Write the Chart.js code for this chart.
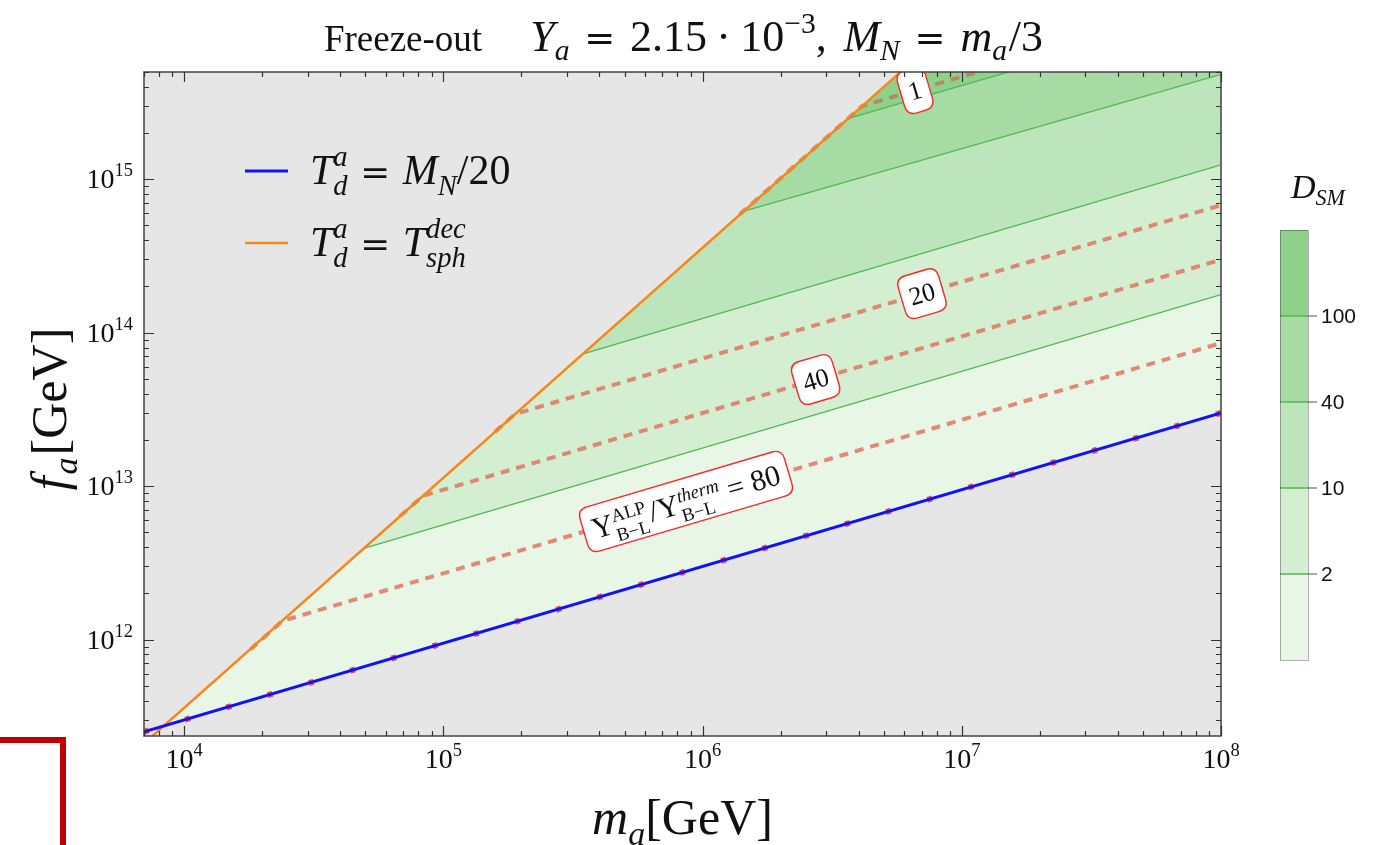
<!DOCTYPE html>
<html><head><meta charset="utf-8">
<script src="https://cdn.jsdelivr.net/npm/chart.js@4.4.1/dist/chart.umd.min.js"></script>
<style>html,body{margin:0;padding:0;background:#fff;}#wrap{width:1377px;height:845px;position:relative;}</style>
</head><body><div id="wrap"><canvas id="c" width="1377" height="845"></canvas></div>
<script>
// ---------- axis ranges & ticks ----------
const xRange = [7000, 1e8];
const yRange = [2.35e11, 5.0e15];
const xTickValues = [1e4, 1e5, 1e6, 1e7, 1e8];
const xTickExps = ['4', '5', '6', '7', '8'];
const yTickValues = [1e12, 1e13, 1e14, 1e15];
const yTickExps = ['12', '13', '14', '15'];

// ---------- boundary curves ----------
const blueM = [7000, 1e8];          // T_d^a = M_N/20
const blueF = [2.50e11, 3.00e13];
const orangeM = [7000, 1.0e7];      // T_d^a = T_sph^dec
const orangeF = [2.10e11, 1.13e16];

// ---------- D_SM contour lines (lower edges of bands) ----------
const dsmLevels = ['2', '10', '40', '100'];
const dsm2M = [4.93e4, 1e8];    const dsm2F = [3.92e12, 1.77e14];
const dsm10M = [3.46e5, 1e8];   const dsm10F = [7.28e13, 1.24e15];
const dsm40M = [1.435e6, 1e8];  const dsm40F = [6.17e14, 4.83e15];
const dsm100M = [3.65e6, 1e8];  const dsm100F = [2.49e15, 1.26e16];

// ---------- Y_ALP/Y_therm contour lines ----------
const r80M = [1.80e4, 2.39e4, 1e8];   const r80F = [8.6e11, 1.32e12, 8.55e13];
const r40M = [6.80e4, 8.36e4, 1e8];   const r40F = [6.35e12, 8.65e12, 2.99e14];
const r20M = [1.58e5, 1.89e5, 1e8];   const r20F = [2.25e13, 2.95e13, 6.78e14];
const r1M = [1.39e6, 4.12e6, 1.585e7]; const r1F = [5.89e14, 3.00e15, 5.87e15];

// ---------- contour label anchors ----------
const ratioLabelText = ['1', '20', '40', '80'];
const ratioLabelM = [6.6e6, 7.02e6, 2.73e6, 8.63e5];
const ratioLabelF = [3.79e15, 1.795e14, 4.95e13, 7.94e12];

// ---------- colours ----------
const bandColors = ['rgb(232,246,230)', 'rgb(211,238,209)', 'rgb(189,229,187)', 'rgb(166,219,164)', 'rgb(141,209,139)'];
const GRAY = 'rgb(230,230,230)';
const GREEN_LINE = 'rgb(80,185,80)';
const DASH = 'rgba(226,100,80,0.75)';
const BLUE = 'rgb(18,18,245)';
const ORANGE = 'rgb(247,135,25)';
const TRANSP = 'rgba(0,0,0,0)';

const SERIF = '"Liberation Serif","Times New Roman",serif';
const DSERIF = '"DejaVu Serif",serif';
const SANS = '"Liberation Sans",Arial,sans-serif';

function series(m, f, opts) {
  return Object.assign({
    data: m.map((v, i) => ({x: v, y: f[i]})),
    pointRadius: 0, tension: 0, fill: false,
    borderColor: TRANSP, borderWidth: 1, backgroundColor: TRANSP
  }, opts);
}

// ---------- rich text helpers ----------
function segFont(p, base) { return (p.it ? 'italic ' : '') + ((p.s || 1) * base).toFixed(1) + 'px ' + (p.fam || SERIF); }
function segWidth(ctx, seg, base) {
  const parts = seg.stack || [seg];
  let w = 0;
  parts.forEach(p => { ctx.font = segFont(p, base); w = Math.max(w, ctx.measureText(p.t).width); });
  return w + (seg.dx || 0) * base;
}
function richWidth(ctx, segs, base) { return segs.reduce((a, s) => a + segWidth(ctx, s, base), 0); }
function drawRich(ctx, x, y, segs, base, align, color) {
  const ws = segs.map(s => segWidth(ctx, s, base));
  const total = ws.reduce((a, b) => a + b, 0);
  let cx = align === 'center' ? x - total / 2 : (align === 'right' ? x - total : x);
  ctx.fillStyle = color || '#111';
  ctx.textAlign = 'left'; ctx.textBaseline = 'alphabetic';
  segs.forEach((s, i) => {
    (s.stack || [s]).forEach(p => {
      ctx.font = segFont(p, base);
      ctx.fillText(p.t, cx + (p.ox || 0) * base, y + (p.dy || 0) * base);
    });
    cx += ws[i];
  });
  return total;
}
function roundRect(ctx, x, y, w, h, r) {
  ctx.beginPath();
  ctx.moveTo(x + r, y); ctx.lineTo(x + w - r, y); ctx.quadraticCurveTo(x + w, y, x + w, y + r);
  ctx.lineTo(x + w, y + h - r); ctx.quadraticCurveTo(x + w, y + h, x + w - r, y + h);
  ctx.lineTo(x + r, y + h); ctx.quadraticCurveTo(x, y + h, x, y + h - r);
  ctx.lineTo(x, y + r); ctx.quadraticCurveTo(x, y, x + r, y); ctx.closePath();
}

const bgPlugin = {
  id: 'bg',
  beforeDraw(chart) {
    const {ctx, chartArea: a} = chart;
    ctx.save(); ctx.fillStyle = GRAY; ctx.fillRect(a.left, a.top, a.right - a.left, a.bottom - a.top); ctx.restore();
  }
};

const decoPlugin = {
  id: 'deco',
  afterDraw(chart) {
    const {ctx, chartArea: a} = chart;
    const xs = chart.scales.x, ys = chart.scales.y;
    ctx.save();

    // contour labels (clipped to plot area)
    ctx.save();
    ctx.beginPath(); ctx.rect(a.left, a.top, a.right - a.left, a.bottom - a.top); ctx.clip();
    const lineSets = [[r1M, r1F], [r20M, r20F], [r40M, r40F], [r80M, r80F]];
    ratioLabelText.forEach((txt, i) => {
      const [m, f] = lineSets[i];
      const n = m.length;
      const x1 = xs.getPixelForValue(m[n - 2]), y1 = ys.getPixelForValue(f[n - 2]);
      const x2 = xs.getPixelForValue(m[n - 1]), y2 = ys.getPixelForValue(f[n - 1]);
      const ang = Math.atan2(y2 - y1, x2 - x1);
      const cx = xs.getPixelForValue(ratioLabelM[i]), cy = ys.getPixelForValue(ratioLabelF[i]);
      let segs, base, bh, padX;
      if (txt === '80') {
        base = 30; bh = 46; padX = 9;
        segs = [
          {t: 'Y'},
          {stack: [{t: 'ALP', s: 0.62, dy: -0.36}, {t: 'B\u2212L', s: 0.62, dy: 0.3}], dx: 0.08},
          {t: '/', dx: 0.02},
          {t: 'Y'},
          {stack: [{t: 'therm', it: true, s: 0.62, dy: -0.36}, {t: 'B\u2212L', s: 0.62, dy: 0.3}]},
          {t: ' = 80'}
        ];
      } else {
        base = 26; bh = 44; padX = 8;
        segs = [{t: txt}];
      }
      const w = richWidth(ctx, segs, base);
      const bw = w + 2 * padX;
      ctx.save();
      ctx.translate(cx, cy); ctx.rotate(ang);
      roundRect(ctx, -bw / 2, -bh / 2, bw, bh, 10);
      ctx.fillStyle = '#fff'; ctx.fill();
      ctx.strokeStyle = 'rgb(250,40,40)'; ctx.lineWidth = 1.4; ctx.stroke();
      drawRich(ctx, 0, base * 0.34, segs, base, 'center', '#111');
      ctx.restore();
    });
    ctx.restore();

    // frame
    ctx.strokeStyle = '#444'; ctx.lineWidth = 1.5;
    ctx.strokeRect(a.left, a.top, a.right - a.left, a.bottom - a.top);

    // ticks (inward, all four sides)
    ctx.lineWidth = 1.2; ctx.strokeStyle = '#333';
    ctx.beginPath();
    for (let e = 3; e <= 8; e++) for (let k = 1; k < 10; k++) {
      const v = k * Math.pow(10, e);
      if (v < xRange[0] || v > xRange[1]) continue;
      const px = Math.round(xs.getPixelForValue(v)) + 0.5;
      const len = k === 1 ? 10 : 5;
      ctx.moveTo(px, a.bottom); ctx.lineTo(px, a.bottom - len);
      ctx.moveTo(px, a.top); ctx.lineTo(px, a.top + len);
    }
    for (let e = 11; e <= 15; e++) for (let k = 1; k < 10; k++) {
      const v = k * Math.pow(10, e);
      if (v < yRange[0] || v > yRange[1]) continue;
      const py = Math.round(ys.getPixelForValue(v)) + 0.5;
      const len = k === 1 ? 10 : 5;
      ctx.moveTo(a.left, py); ctx.lineTo(a.left + len, py);
      ctx.moveTo(a.right, py); ctx.lineTo(a.right - len, py);
    }
    ctx.stroke();

    // tick labels
    xTickValues.forEach((v, i) => {
      const px = xs.getPixelForValue(v);
      drawRich(ctx, px, 768, [{t: '10'}, {t: xTickExps[i], s: 0.66, dy: -0.42}], 28, 'center', '#111');
    });
    yTickValues.forEach((v, i) => {
      const py = ys.getPixelForValue(v);
      drawRich(ctx, 133, py + 9, [{t: '10'}, {t: yTickExps[i], s: 0.66, dy: -0.42}], 28, 'right', '#111');
    });

    // axis titles
    drawRich(ctx, (a.left + a.right) / 2, 834,
      [{t: 'm', it: true}, {t: 'a', it: true, s: 0.68, dy: 0.22}, {t: '[GeV]'}], 50, 'center', '#111');
    ctx.save();
    ctx.translate(66, (a.top + a.bottom) / 2 + 5); ctx.rotate(-Math.PI / 2);
    drawRich(ctx, 0, 0, [{t: 'f', it: true, dx: 0.04}, {t: 'a', it: true, s: 0.68, dy: 0.22, dx: 0.04}, {t: '[GeV]'}], 50, 'center', '#111');
    ctx.restore();

    // title
    drawRich(ctx, 683.5, 51, [
      {t: 'Freeze-out', dx: 1.3},
      {t: 'Y', it: true, s: 1.19}, {t: 'a', it: true, s: 0.8, dy: 0.25, dx: 0.4},
      {t: '=', s: 1.0, fam: DSERIF, dx: 0.4},
      {t: '2.15', s: 1.19, dx: 0.25}, {t: '\u00b7', s: 1.19, dx: 0.25},
      {t: '10', s: 1.19}, {t: '\u22123', s: 0.8, dy: -0.5}, {t: ',', s: 1.19, dx: 0.45},
      {t: 'M', it: true, s: 1.19}, {t: 'N', it: true, s: 0.8, dy: 0.25, dx: 0.4},
      {t: '=', s: 1.0, fam: DSERIF, dx: 0.4},
      {t: 'm', it: true, s: 1.19}, {t: 'a', it: true, s: 0.8, dy: 0.25, dx: 0.05}, {t: '/3', s: 1.19}
    ], 37, 'center', '#111');

    // legend
    ctx.lineWidth = 3; ctx.strokeStyle = BLUE;
    ctx.beginPath(); ctx.moveTo(245, 171); ctx.lineTo(288, 171); ctx.stroke();
    ctx.lineWidth = 2.5; ctx.strokeStyle = ORANGE;
    ctx.beginPath(); ctx.moveTo(245, 243); ctx.lineTo(288, 243); ctx.stroke();
    drawRich(ctx, 310, 184, [
      {t: 'T', it: true},
      {stack: [{t: 'a', it: true, s: 0.68, dy: -0.42}, {t: 'd', it: true, s: 0.68, dy: 0.26}], dx: 0.3},
      {t: '=', s: 0.85, fam: DSERIF, dx: 0.3}, {t: 'M', it: true}, {t: 'N', it: true, s: 0.68, dy: 0.26}, {t: '/20'}
    ], 42, 'left', '#111');
    drawRich(ctx, 310, 256, [
      {t: 'T', it: true},
      {stack: [{t: 'a', it: true, s: 0.68, dy: -0.42}, {t: 'd', it: true, s: 0.68, dy: 0.26}], dx: 0.3},
      {t: '=', s: 0.85, fam: DSERIF, dx: 0.3}, {t: 'T', it: true},
      {stack: [{t: 'dec', it: true, s: 0.68, dy: -0.42}, {t: 'sph', it: true, s: 0.68, dy: 0.26}]}
    ], 42, 'left', '#111');

    // colour bar
    const cbX = 1280, cbW = 28, cbTop = 230, cbBot = 660, nb = bandColors.length;
    const h = (cbBot - cbTop) / nb;
    bandColors.forEach((c, i) => { ctx.fillStyle = c; ctx.fillRect(cbX, cbBot - (i + 1) * h, cbW, h); });
    dsmLevels.forEach((lab, i) => {
      const y = cbBot - (i + 1) * h;
      ctx.strokeStyle = GREEN_LINE; ctx.lineWidth = 1.5;
      ctx.beginPath(); ctx.moveTo(cbX, y); ctx.lineTo(cbX + cbW, y); ctx.stroke();
      ctx.strokeStyle = '#555'; ctx.lineWidth = 1;
      ctx.beginPath(); ctx.moveTo(cbX + cbW, y); ctx.lineTo(cbX + cbW + 9, y); ctx.stroke();
      ctx.font = '21px ' + SANS; ctx.fillStyle = '#111'; ctx.textAlign = 'left'; ctx.textBaseline = 'middle';
      ctx.fillText(lab, cbX + cbW + 13, y + 1);
    });
    ctx.strokeStyle = 'rgba(0,0,0,0.3)'; ctx.lineWidth = 1;
    ctx.strokeRect(cbX + 0.5, cbTop + 0.5, cbW, cbBot - cbTop);
    drawRich(ctx, 1318, 198, [{t: 'D', it: true}, {t: 'SM', it: true, s: 0.65, dy: 0.22}], 34, 'center', '#111');

    // red bracket at bottom-left
    ctx.fillStyle = 'rgb(192,0,0)';
    ctx.fillRect(0, 737, 66, 6);
    ctx.fillRect(60, 737, 6, 108);

    ctx.restore();
  }
};

const chart = new Chart(document.getElementById('c'), {
  type: 'line',
  data: {
    datasets: [
      series(blueM, blueF, {fill: 'end', backgroundColor: bandColors[0], order: 20}),
      series(dsm2M, dsm2F, {fill: 'end', backgroundColor: bandColors[1], borderColor: GREEN_LINE, borderWidth: 1.3, order: 19}),
      series(dsm10M, dsm10F, {fill: 'end', backgroundColor: bandColors[2], borderColor: GREEN_LINE, borderWidth: 1.3, order: 18}),
      series(dsm40M, dsm40F, {fill: 'end', backgroundColor: bandColors[3], borderColor: GREEN_LINE, borderWidth: 1.3, order: 17}),
      series(dsm100M, dsm100F, {fill: 'end', backgroundColor: bandColors[4], borderColor: GREEN_LINE, borderWidth: 1.3, order: 16}),
      series(orangeM, orangeF, {fill: 'end', backgroundColor: GRAY, order: 15}),
      series(blueM, blueF, {fill: 'start', backgroundColor: GRAY, order: 14}),
      series(r80M, r80F, {borderColor: DASH, borderWidth: 4, borderDash: [9, 7], order: 10}),
      series(r40M, r40F, {borderColor: DASH, borderWidth: 4, borderDash: [9, 7], order: 9}),
      series(r20M, r20F, {borderColor: DASH, borderWidth: 4, borderDash: [9, 7], order: 8}),
      series(r1M, r1F, {borderColor: 'rgba(200,110,80,0.7)', borderWidth: 4, borderDash: [9, 7], order: 7}),
      series(blueM, blueF, {borderColor: 'rgba(236,60,60,0.9)', borderWidth: 6, borderDash: [5, 38], order: 4}),
      series(orangeM, orangeF, {borderColor: ORANGE, borderWidth: 2.5, order: 2}),
      series(blueM, blueF, {borderColor: BLUE, borderWidth: 3, order: 1})
    ]
  },
  options: {
    responsive: false, devicePixelRatio: 1, animation: false, events: [],
    layout: {padding: {left: 144, top: 72, right: 1377 - 1221, bottom: 845 - 736}},
    plugins: {legend: {display: false}, tooltip: {enabled: false}, title: {display: false}},
    scales: {
      x: {
        type: 'logarithmic', min: xRange[0], max: xRange[1], bounds: 'data', z: 1,
        border: {display: false},
        grid: {color: 'rgba(0,0,0,0.10)', lineWidth: 1, drawTicks: false},
        ticks: {display: false},
        afterBuildTicks: s => { s.ticks = xTickValues.map(v => ({value: v})); }
      },
      y: {
        type: 'logarithmic', min: yRange[0], max: yRange[1], bounds: 'data', z: 1,
        border: {display: false},
        grid: {color: 'rgba(0,0,0,0.10)', lineWidth: 1, drawTicks: false},
        ticks: {display: false},
        afterBuildTicks: s => { s.ticks = yTickValues.map(v => ({value: v})); }
      }
    }
  },
  plugins: [bgPlugin, decoPlugin]
});
</script></body></html>
